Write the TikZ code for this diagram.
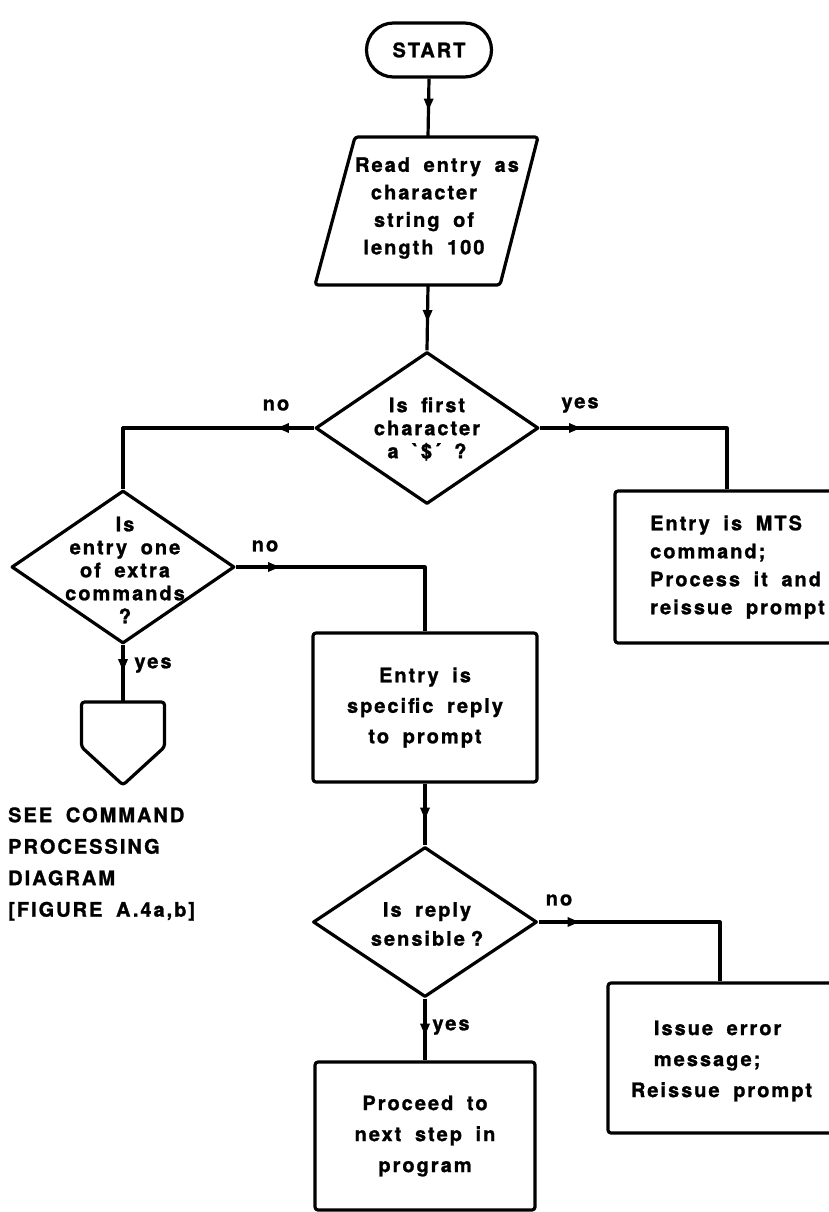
\documentclass[tikz,border=0pt]{standalone}
\usepackage{fontspec}
\newfontfamily\hv{TeX Gyre Heros}[Ligatures=TeXOff, LetterSpace=10, WordSpace=1.8, BoldFeatures={FakeBold=1.2}]
\usetikzlibrary{shapes.geometric, arrows.meta, decorations.markings}
\newcommand{\fs}[1]{\hv\bfseries\fontsize{20}{#1}\selectfont}
\tikzset{
  ln/.style={line width=3.2pt, line join=round},
  txt/.style={inner sep=0pt, align=center, font=\fs{#1}},
  lbl/.style={inner sep=0pt, font=\fs{24}},
  boxnode/.style={draw, ln, rounded corners=3pt, inner sep=0pt},
  dia/.style={draw, ln, diamond, inner sep=0pt},
  arr/.style={ln, postaction={decorate},
    decoration={markings, mark=at position #1 with {\arrow{Triangle[length=12pt,width=9pt]}}}}
}
\begin{document}
\begin{tikzpicture}[x=1pt,y=-1pt]
\useasboundingbox (0,0) rectangle (829,1212);

% START
\node[boxnode, rounded corners=27pt, minimum width=125pt, minimum height=54pt, font=\fs{24}] (start) at (429,50) {START};

% input parallelogram
\draw[ln, rounded corners=3pt] (355,137) -- (538,137) -- (500,285) -- (315,285) -- cycle;
\coordinate (paraN) at (428,137);
\coordinate (paraS) at (428,285);
\node[txt=27.5] (para) at (424,208) {\hspace*{26pt}Read entry as\\character\hspace*{6pt}\\string of\\length 100};

% decision 1
\node[dia, minimum width=223pt, minimum height=152pt] (d1) at (427,428) {};
\node[txt=23] (d1t) at (427,429) {Is first\\character\\a `\$´ ?};

% MTS box
\node[boxnode, minimum width=224pt, minimum height=152pt] (mts) at (727,567) {};
\node[txt=28, align=left, anchor=west] (mtst) at (650,567) {Entry is MTS\\command;\\Process it and\\reissue prompt};

% decision 2
\node[dia, minimum width=223pt, minimum height=153pt] (d2) at (123,567) {};
\node[txt=23] (d2t) at (125,570) {Is\\entry one\\of extra\\commands\\?};

% off-page connector
\draw[ln, rounded corners=3pt] (81.5,702) -- (164.5,702) -- (164.5,747) -- (123,785) -- (81.5,747) -- cycle;
\coordinate (pentN) at (123,702);
\node[txt=31.5, align=left, anchor=west] (see) at (8,864) {SEE COMMAND\\PROCESSING\\DIAGRAM\\{[}FIGURE A.4a,b{]}};

% reply box
\node[boxnode, minimum width=224pt, minimum height=149pt, align=center, font=\fs{30.5}] (box1) at (425,707.5) {Entry is\\specific reply\\to prompt};

% decision 3
\node[dia, minimum width=224pt, minimum height=150pt] (d3) at (425,922) {};
\node[txt=29] (d3t) at (427,924) {Is reply\\sensible\hspace{6pt}?};

% error box
\node[boxnode, minimum width=224pt, minimum height=150pt] (err) at (720,1058) {};
\node[txt=31, align=left] (errt) at (721.5,1061) {\hspace*{23pt}Issue error\\\hspace*{23pt}message;\\Reissue prompt};

% proceed box
\node[boxnode, minimum width=220pt, minimum height=148pt, align=center, font=\fs{31}] (proc) at (425,1136) {Proceed to\\next step in\\program};

% labels
\node[lbl] (l1) at (276,405) {no};
\node[lbl] (l2) at (580,405) {yes};
\node[lbl] (l3) at (265,546) {no};
\node[lbl] (l4) at (153,665) {yes};
\node[lbl] (l5) at (559,900) {no};
\node[lbl] (l6) at (451,1027) {yes};

% connectors
\draw[arr=32pt] (start.south) -- (paraN);
\draw[arr=37pt] (paraS) -- (d1.north);
\draw[arr=37pt] (d1.west) -| (d2.north);
\draw[arr=41pt] (d1.east) -| (mts.north);
\draw[arr=44pt] (d2.east) -| (box1.north);
\draw[arr=26pt] (d2.south) -- (pentN);
\draw[arr=36pt] (box1.south) -- (d3.north);
\draw[arr=41pt] (d3.east) -| (err.north);
\draw[arr=37pt] (d3.south) -- (proc.north);
\end{tikzpicture}
\end{document}
